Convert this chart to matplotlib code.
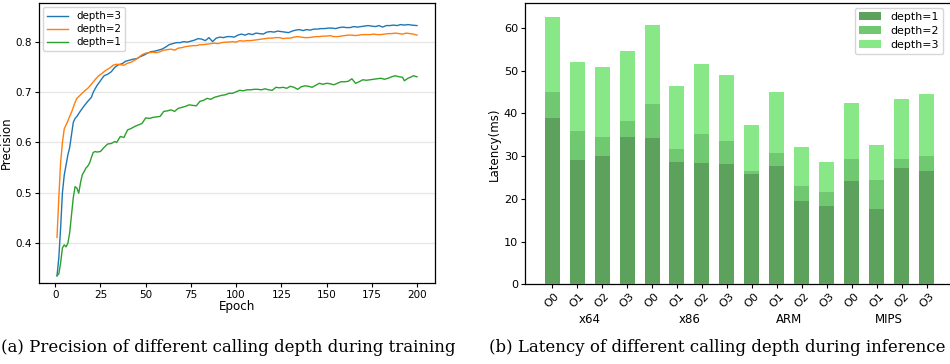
import matplotlib
matplotlib.use("Agg")
import matplotlib.pyplot as plt
import numpy as np

# ---------------- data: left panel ----------------
ep3 = [1,2,3,4,5,6,7,8,9,10,11,12,14,16,18,20,21,23,25,27,29,31,33,35,37,39,41,43,45,47,49,51,53,55,57,59,61,63,65,67,69,71,73,75,77,79,81,83,85,87,89,91,93,95,97,99,101,103,105,107,109,111,113,115,117,119,121,123,125,127,129,131,133,135,137,139,141,143,145,147,149,151,153,155,157,159,161,163,165,167,169,171,173,175,177,179,181,183,185,187,189,191,193,195,197,200]
prec3 = [0.334,0.37,0.43,0.50,0.535,0.555,0.575,0.59,0.615,0.64,0.648,0.652,0.663,0.673,0.682,0.69,0.70,0.713,0.723,0.733,0.736,0.741,0.75,0.755,0.757,0.762,0.764,0.766,0.767,0.771,0.774,0.778,0.781,0.782,0.784,0.786,0.79,0.795,0.797,0.799,0.799,0.801,0.800,0.802,0.804,0.807,0.806,0.803,0.809,0.801,0.808,0.810,0.809,0.811,0.811,0.810,0.814,0.816,0.814,0.817,0.815,0.818,0.817,0.816,0.820,0.821,0.820,0.822,0.821,0.820,0.819,0.822,0.824,0.825,0.823,0.825,0.824,0.826,0.826,0.827,0.827,0.828,0.828,0.827,0.829,0.830,0.829,0.829,0.831,0.830,0.831,0.832,0.833,0.832,0.831,0.833,0.830,0.833,0.833,0.834,0.833,0.835,0.834,0.835,0.834,0.833]

ep2 = [1,2,3,4,5,6,7,8,9,10,11,12,14,16,18,20,22,24,26,28,30,32,34,36,38,40,42,44,46,48,50,52,54,56,58,60,62,64,66,68,70,72,74,76,78,80,82,84,86,88,90,92,94,96,98,100,102,104,106,108,110,112,114,116,118,120,122,124,126,128,130,132,134,136,138,140,142,144,146,148,150,152,154,156,158,160,162,164,166,168,170,172,174,176,178,180,182,184,186,188,190,192,194,196,198,200]
prec2 = [0.411,0.49,0.56,0.60,0.627,0.635,0.643,0.652,0.66,0.67,0.68,0.688,0.695,0.702,0.708,0.716,0.725,0.733,0.738,0.744,0.748,0.754,0.756,0.755,0.754,0.758,0.76,0.764,0.769,0.775,0.778,0.779,0.780,0.779,0.781,0.784,0.785,0.786,0.784,0.788,0.789,0.791,0.792,0.793,0.793,0.795,0.795,0.796,0.797,0.798,0.797,0.799,0.800,0.800,0.801,0.800,0.803,0.802,0.803,0.803,0.804,0.805,0.806,0.807,0.808,0.808,0.809,0.809,0.807,0.808,0.808,0.810,0.811,0.810,0.809,0.809,0.810,0.811,0.811,0.812,0.812,0.813,0.811,0.811,0.812,0.813,0.814,0.814,0.813,0.814,0.815,0.815,0.815,0.816,0.815,0.815,0.816,0.817,0.817,0.818,0.817,0.816,0.818,0.817,0.816,0.814]

ep1 = [1,2,3,4,5,6,7,8,9,10,11,12,13,14,15,16,17,18,19,20,21,22,23,25,27,29,31,33,34,36,38,40,42,44,46,48,50,52,54,56,58,60,62,64,66,68,70,72,74,76,78,80,82,84,86,88,90,92,94,96,98,100,102,104,106,108,110,112,114,116,118,120,122,124,126,128,130,132,134,136,138,140,142,144,146,148,150,152,154,156,158,160,162,164,166,168,170,172,174,176,178,180,182,184,186,188,190,192,193,195,197,198,200]
prec1 = [0.335,0.338,0.36,0.39,0.396,0.392,0.399,0.42,0.455,0.49,0.512,0.509,0.499,0.52,0.536,0.542,0.549,0.553,0.559,0.57,0.58,0.582,0.581,0.582,0.59,0.597,0.598,0.602,0.600,0.612,0.61,0.625,0.628,0.632,0.635,0.638,0.649,0.648,0.650,0.651,0.652,0.662,0.663,0.665,0.662,0.668,0.670,0.672,0.675,0.674,0.673,0.682,0.684,0.688,0.686,0.690,0.692,0.694,0.695,0.698,0.698,0.701,0.704,0.703,0.705,0.705,0.706,0.706,0.705,0.707,0.705,0.704,0.710,0.709,0.710,0.708,0.712,0.710,0.706,0.711,0.713,0.712,0.710,0.714,0.718,0.716,0.718,0.717,0.715,0.718,0.721,0.721,0.722,0.727,0.718,0.721,0.725,0.724,0.725,0.726,0.727,0.728,0.726,0.728,0.731,0.733,0.731,0.730,0.723,0.728,0.731,0.733,0.731]

# ---------------- data: right panel ----------------
opt_labels = ["O0", "O1", "O2", "O3"] * 4
arch_labels = ["x64", "x86", "ARM", "MIPS"]
lat_d1 = [38.9, 29.1, 30.0, 34.5, 34.3, 28.6, 28.4, 28.2, 25.9, 27.7, 19.5, 18.3, 24.2, 17.6, 27.2, 26.5]
lat_d2 = [45.0, 35.8, 34.5, 38.2, 42.2, 31.7, 35.2, 33.5, 26.5, 30.7, 23.0, 21.6, 29.3, 24.4, 29.3, 30.0]
lat_d3 = [62.5, 52.0, 50.9, 54.6, 60.7, 46.4, 51.6, 49.0, 37.3, 45.0, 32.1, 28.6, 42.4, 32.6, 43.4, 44.5]

fig = plt.figure(figsize=(9.5, 3.64), dpi=100)
plt.rcParams['font.family'] = ['DejaVu Sans']

# ---- left panel ----
ax1 = fig.add_axes([39/950, 1-283/364, (435-39)/950, 280/364])
ax1.plot(ep3, prec3, color='#1f77b4', lw=1.0, label='depth=3')
ax1.plot(ep2, prec2, color='#ff7f0e', lw=1.0, label='depth=2')
ax1.plot(ep1, prec1, color='#2ca02c', lw=1.0, label='depth=1')
ax1.set_ylim(0.32, 0.878)
ax1.set_xticks([0, 25, 50, 75, 100, 125, 150, 175, 200])
ax1.set_yticks([0.4, 0.5, 0.6, 0.7, 0.8])
ax1.yaxis.grid(True, color='#e6e6e6', lw=0.9)
ax1.set_axisbelow(True)
ax1.tick_params(labelsize=7.5, length=3, width=0.8, pad=2)
ax1.set_xlabel('Epoch', fontsize=8.6, labelpad=0)
ax1.set_ylabel('Precision', fontsize=8.5, labelpad=2)
ax1.legend(loc='upper left', fontsize=7.4, handlelength=2.0, borderpad=0.4,
           labelspacing=0.3, handletextpad=0.8, borderaxespad=0.4)
for s in ax1.spines.values():
    s.set_linewidth(0.9)

# ---- right panel ----
ax2 = fig.add_axes([525/950, 1-284.3/364, 429/950, 281/364])
x = np.arange(len(opt_labels))
w = 0.6
ax2.bar(x, lat_d3, width=w, color='#88e888', label='depth=3', zorder=1)
ax2.bar(x, lat_d2, width=w, color='#70c870', label='depth=2', zorder=2)
ax2.bar(x, lat_d1, width=w, color='#5ca15c', label='depth=1', zorder=3)
ax2.set_xlim(-1.09, 16.1)
ax2.set_ylim(0, 65.8)
ax2.set_yticks([0, 10, 20, 30, 40, 50, 60])
ax2.set_xticks(x)
ax2.set_xticklabels(opt_labels, rotation=45)
ax2.tick_params(labelsize=8.1, length=3, width=0.8, pad=2)
ax2.set_ylabel('Latency(ms)', fontsize=8.5, labelpad=2)
for i, a in enumerate(arch_labels):
    ax2.text(4*i + 1.5, -0.127, a, transform=ax2.get_xaxis_transform(),
             ha='center', va='center', fontsize=8.5)
h, l = ax2.get_legend_handles_labels()
ax2.legend(h[::-1], l[::-1], loc='upper right', fontsize=7.9, borderpad=0.4,
           labelspacing=0.35, handletextpad=0.8, bbox_to_anchor=(0.9845, 1.0),
           borderaxespad=0.4)
for s in ax2.spines.values():
    s.set_linewidth(0.9)

# ---- captions ----
fig.text(1/950, 1-348/364, '(a) Precision of different calling depth during training',
         family='DejaVu Serif', fontsize=12, ha='left', va='center')
fig.text(489/950, 1-348/364, '(b) Latency of different calling depth during inference',
         family='DejaVu Serif', fontsize=12, ha='left', va='center')

fig.savefig('out.png', dpi=100)
